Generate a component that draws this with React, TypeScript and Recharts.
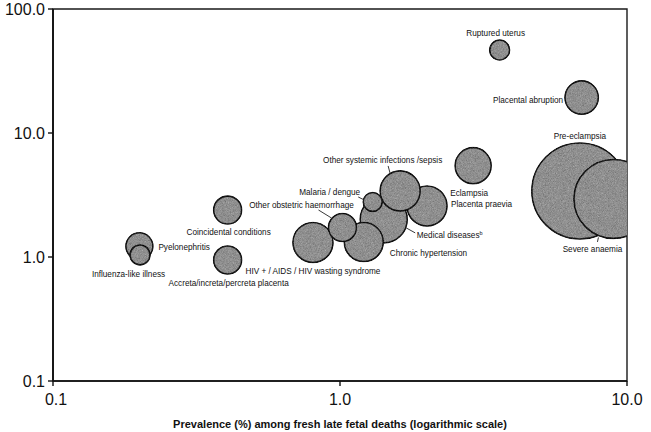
import React from 'react';
import { ScatterChart, Scatter, XAxis, YAxis, ZAxis, ReferenceArea, Label } from 'recharts';

// ---- data (drawing order: back to front) ----
const conditions = [
  'Medical diseases',
  'HIV + / AIDS / HIV wasting syndrome',
  'Chronic hypertension',
  'Other obstetric haemorrhage',
  'Placenta praevia',
  'Other systemic infections /sepsis',
  'Malaria / dengue',
  'Eclampsia',
  'Coincidental conditions',
  'Accreta/increta/percreta placenta',
  'Pyelonephritis',
  'Influenza-like illness',
  'Ruptured uterus',
  'Placental abruption',
  'Pre-eclampsia',
  'Severe anaemia',
];
const prevalence = [1.42, 0.805, 1.21, 1.02, 2.01, 1.62, 1.3, 2.91, 0.406, 0.406, 0.2, 0.201, 3.6, 6.95, 6.85, 8.97];
const riskRatio = [2.01, 1.31, 1.32, 1.73, 2.58, 3.41, 2.78, 5.45, 2.39, 0.946, 1.22, 1.04, 46.7, 19.3, 3.41, 2.94];
const bubbleWeight = [24.0, 17.4, 16.5, 8.5, 17.4, 17.4, 3.9, 14.1, 8.5, 8.5, 7.9, 4.3, 4.3, 12.1, 100, 67.7];

const xTicks = [0.1, 1, 10];
const yTicks = [0.1, 1, 10, 100];
const xTitle = 'Prevalence (%) among fresh late fetal deaths (logarithmic scale)';

// ---- label placement (pixel offsets from bubble centre) ----
type LabelPos = { anchor: 'start' | 'middle' | 'end'; dx: number; dy: number; line?: number[]; sup?: string };
const labelLayout: Record<string, LabelPos> = {
  'Ruptured uterus': { anchor: 'middle', dx: -4, dy: -14 },
  'Placental abruption': { anchor: 'end', dx: -18.5, dy: 5 },
  'Pre-eclampsia': { anchor: 'middle', dx: 0, dy: -52 },
  'Severe anaemia': { anchor: 'middle', dx: -21, dy: 53, line: [-16, 43, -15, 38.5] },
  'Eclampsia': { anchor: 'middle', dx: -4, dy: 30 },
  'Placenta praevia': { anchor: 'start', dx: 24, dy: 1 },
  'Other systemic infections /sepsis': { anchor: 'middle', dx: -17.5, dy: -27.5, line: [-12, -25, -10, -17.5] },
  'Malaria / dengue': { anchor: 'middle', dx: -43, dy: -7, line: [-14.5, -5, -8.5, -2] },
  'Medical diseases': { anchor: 'start', dx: 33, dy: 19, line: [22.5, 8.5, 31.5, 13.5], sup: 'b' },
  'Other obstetric haemorrhage': { anchor: 'middle', dx: -41, dy: -19, line: [-24, -17.5, -11, -9.5] },
  'Chronic hypertension': { anchor: 'start', dx: 26, dy: 13.5 },
  'HIV + / AIDS / HIV wasting syndrome': { anchor: 'middle', dx: 0, dy: 31.5 },
  'Coincidental conditions': { anchor: 'middle', dx: 1, dy: 24.5 },
  'Accreta/increta/percreta placenta': { anchor: 'middle', dx: 1, dy: 26 },
  'Pyelonephritis': { anchor: 'start', dx: 19, dy: 3.5 },
  'Influenza-like illness': { anchor: 'middle', dx: -11.5, dy: 22.5 },
};

const points = conditions.map((name, i) => ({
  name,
  x: prevalence[i],
  y: riskRatio[i],
  z: bubbleWeight[i],
}));

const FONT = '"Liberation Sans", Arial, sans-serif';

const Bubble = (props: any) => {
  const { cx, cy, size } = props;
  const r = Math.sqrt(Math.max(size || 0, 0) / Math.PI);
  return (
    <circle cx={cx} cy={cy} r={r} fill="#8e8e8e" stroke="#151515" strokeWidth={1.6} filter="url(#grain)" />
  );
};

const BubbleLabel = (props: any) => {
  const { cx, cy, payload } = props;
  const l = labelLayout[payload.name];
  if (!l) return <g />;
  return (
    <g>
      {l.line && (
        <line
          x1={cx + l.line[0]}
          y1={cy + l.line[1]}
          x2={cx + l.line[2]}
          y2={cy + l.line[3]}
          stroke="#222"
          strokeWidth={0.9}
        />
      )}
      <text
        x={cx + l.dx}
        y={cy + l.dy}
        textAnchor={l.anchor}
        fontSize={8.2}
        fontFamily={FONT}
        fill="#111"
      >
        {payload.name}
        {l.sup && (
          <tspan dy={-3} fontSize={5.5}>
            {l.sup}
          </tspan>
        )}
      </text>
    </g>
  );
};

const XTick = (props: any) => {
  const { x, y, payload, index } = props;
  return (
    <text
      x={x + (index === 0 ? 3 : 0)}
      y={y + 17}
      textAnchor="middle"
      fontSize={16}
      fontFamily={FONT}
      fill="#111"
    >
      {Number(payload.value).toFixed(1)}
    </text>
  );
};

const YTick = (props: any) => {
  const { x, y, payload } = props;
  return (
    <text x={x} y={y + 5.5} textAnchor="end" fontSize={16} fontFamily={FONT} fill="#111">
      {Number(payload.value).toFixed(1)}
    </text>
  );
};

export default function App() {
  return (
    <div style={{ position: 'absolute', left: 0, top: 0, width: 651, height: 432, background: '#fff' }}>
      <svg width={0} height={0} style={{ position: 'absolute' }}>
        <defs>
          <filter id="grain" x="-10%" y="-10%" width="120%" height="120%" colorInterpolationFilters="sRGB">
            <feTurbulence type="fractalNoise" baseFrequency="1.4" numOctaves={1} seed={5} result="noise" />
            <feColorMatrix
              in="noise"
              type="matrix"
              values="0.33 0.33 0.33 0 0  0.33 0.33 0.33 0 0  0.33 0.33 0.33 0 0  0 0 0 0 1"
              result="gray"
            />
            <feComposite in="SourceGraphic" in2="gray" operator="arithmetic" k1={0} k2={1} k3={0.55} k4={-0.27} result="mix" />
            <feComposite in="mix" in2="SourceAlpha" operator="in" />
          </filter>
        </defs>
      </svg>
      <ScatterChart width={651} height={432} margin={{ top: 9, right: 24, bottom: 0, left: 0 }}>
        <XAxis
          type="number"
          dataKey="x"
          scale="log"
          domain={[0.1, 10]}
          ticks={xTicks}
          allowDataOverflow
          height={51}
          tickSize={5}
          tickMargin={2}
          tick={<XTick />}
          axisLine={{ stroke: '#111', strokeWidth: 1.6 }}
          tickLine={{ stroke: '#111', strokeWidth: 1.4 }}
        >
          <Label
            value={xTitle}
            position="insideBottom"
            offset={4}
            style={{ fontSize: 11, fontWeight: 'bold', fontFamily: FONT, fill: '#111' }}
          />
        </XAxis>
        <YAxis
          type="number"
          dataKey="y"
          scale="log"
          domain={[0.1, 100]}
          ticks={yTicks}
          allowDataOverflow
          width={53}
          tickSize={5}
          tickMargin={3}
          tick={<YTick />}
          axisLine={{ stroke: '#111', strokeWidth: 1.8 }}
          tickLine={{ stroke: '#111', strokeWidth: 1.4 }}
        />
        <ZAxis type="number" dataKey="z" domain={[0, 100]} range={[0, Math.PI * 48 * 48]} />
        <ReferenceArea x1={0.1} x2={10} y1={0.1} y2={100} fill="none" stroke="#1a1a1a" strokeWidth={1.4} ifOverflow="visible" />
        <Scatter data={points} shape={<Bubble />} isAnimationActive={false} />
        <Scatter data={points} shape={<BubbleLabel />} isAnimationActive={false} />
      </ScatterChart>
    </div>
  );
}
